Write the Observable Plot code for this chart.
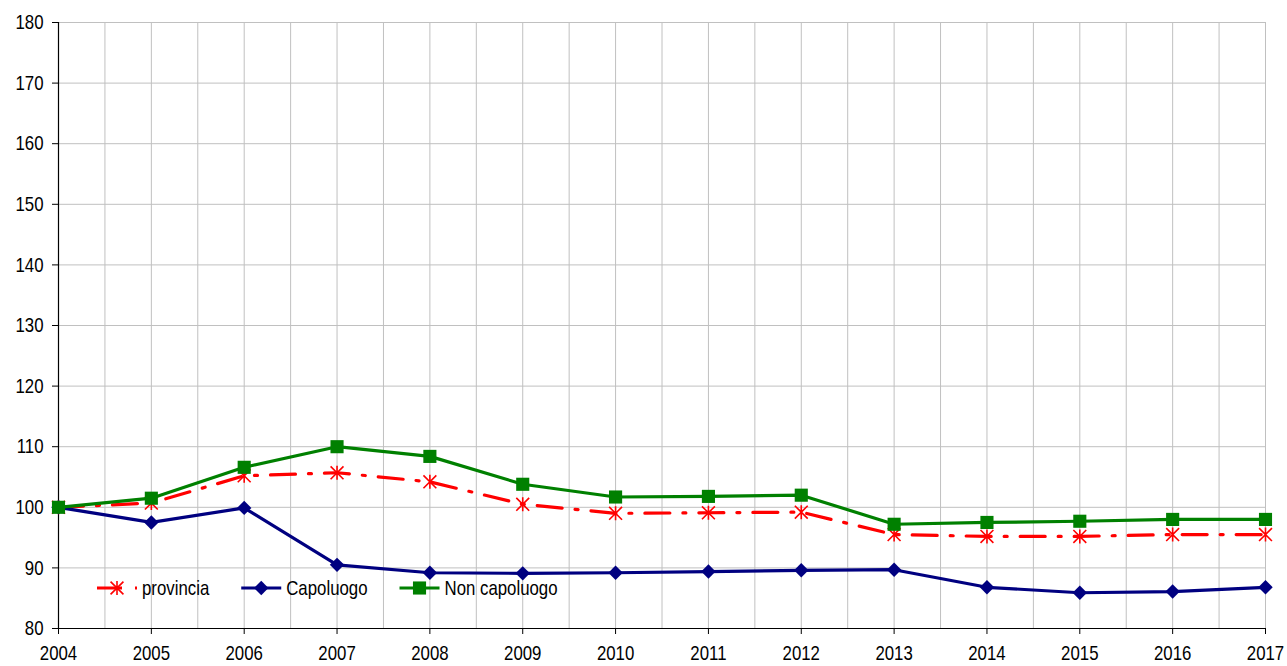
<!DOCTYPE html>
<html>
<head>
<meta charset="utf-8">
<script src="https://cdn.jsdelivr.net/npm/d3@7"></script>
<script src="https://cdn.jsdelivr.net/npm/@observablehq/plot@0.6"></script>
<style>
  html, body { margin: 0; padding: 0; background: #fff; }
  #wrap { position: relative; width: 1287px; height: 666px; font-family: "Liberation Sans", Arial, sans-serif; }
  #legend { position: absolute; left: 97px; top: 576px; }
  #chart svg text, #legend text { font-family: "Liberation Sans", Arial, sans-serif; font-size: 21px; fill: #000; }
</style>
</head>
<body>
<div id="wrap"><div id="chart"></div><svg id="legend" width="700" height="24"></svg></div>
<script>
const years = [2004, 2005, 2006, 2007, 2008, 2009, 2010, 2011, 2012, 2013, 2014, 2015, 2016, 2017];
const provincia = [100, 100.7, 105.2, 105.7, 104.2, 100.5, 99.0, 99.1, 99.2, 95.5, 95.2, 95.2, 95.5, 95.5];
const capoluogo = [100, 97.5, 99.9, 90.5, 89.2, 89.1, 89.2, 89.4, 89.6, 89.7, 86.8, 85.9, 86.1, 86.8];
const nonCapoluogo = [100, 101.5, 106.6, 110.0, 108.4, 103.8, 101.7, 101.8, 102.0, 97.2, 97.5, 97.7, 98.0, 98.0];
const yTicks = [80, 90, 100, 110, 120, 130, 140, 150, 160, 170, 180];

// Narrow-looking text (the reference uses a condensed face)
const NARROW = 0.8;

// Excel-style star: an X plus a vertical stroke
const starSymbol = {
  draw(context, size) {
    const r = Math.sqrt(size / Math.PI);
    const d = r * 0.92;
    context.moveTo(-d, -d); context.lineTo(d, d);
    context.moveTo(d, -d); context.lineTo(-d, d);
    context.moveTo(0, -r); context.lineTo(0, r);
  }
};

const seriesDefs = [
  {name: "provincia", values: provincia, color: "#ff0000", symbol: starSymbol, dash: "25,13,3,13", marker: "stroke", r: 7},
  {name: "Capoluogo", values: capoluogo, color: "#000080", symbol: d3.symbolDiamond2, dash: null, marker: "fill", r: 6.5},
  {name: "Non capoluogo", values: nonCapoluogo, color: "#008000", symbol: d3.symbolSquare, dash: null, marker: "fill", r: 7.4}
];

const halfYears = d3.range(years[0], years[years.length - 1] + 0.01, 0.5);

const marks = [
  Plot.gridX(halfYears, {stroke: "#c0c0c0", strokeOpacity: 1, strokeWidth: 1}),
  Plot.gridY(yTicks, {stroke: "#c0c0c0", strokeOpacity: 1, strokeWidth: 1}),
  Plot.axisY(yTicks, {tickSize: 6, tickPadding: 9, label: null, stroke: "#000", tickFormat: d => d}),
  Plot.axisX(years, {tickSize: 6, tickPadding: 11, label: null, tickFormat: d => String(d)}),
  Plot.ruleX([years[0]], {stroke: "#000", strokeWidth: 1.2}),
  Plot.ruleY([yTicks[0]], {stroke: "#000", strokeWidth: 1.2})
];

for (const s of seriesDefs) {
  const data = years.map((y, i) => ({year: y, value: s.values[i]}));
  marks.push(Plot.line(data, {x: "year", y: "value", stroke: s.color, strokeWidth: 3.2, strokeDasharray: s.dash || undefined}));
  if (s.marker === "fill") {
    marks.push(Plot.dot(data, {x: "year", y: "value", symbol: s.symbol, fill: s.color, stroke: "none", r: s.r}));
  } else {
    marks.push(Plot.dot(data, {x: "year", y: "value", symbol: s.symbol, stroke: s.color, fill: "none", strokeWidth: 1.6, r: s.r}));
  }
}

const chart = Plot.plot({
  width: 1287,
  height: 666,
  marginLeft: 58,
  marginRight: 22,
  marginTop: 22,
  marginBottom: 38,
  style: {fontFamily: "'Liberation Sans', Arial, sans-serif", fontSize: "21px", color: "#000", background: "#fff", overflow: "visible"},
  x: {domain: [years[0], years[years.length - 1]], axis: null},
  y: {domain: [yTicks[0], yTicks[yTicks.length - 1]], axis: null},
  marks
});
document.getElementById("chart").appendChild(chart);

function condense(textEl) {
  const len = textEl.getComputedTextLength();
  if (len > 0) {
    textEl.setAttribute("textLength", (len * NARROW).toFixed(2));
    textEl.setAttribute("lengthAdjust", "spacingAndGlyphs");
  }
  return len * NARROW;
}
chart.querySelectorAll("text").forEach(condense);

// Legend
const legend = d3.select("#legend");
let x = 0;
const cy = 12;
for (const s of seriesDefs) {
  const g = legend.append("g").attr("transform", `translate(${x},0)`);
  g.append("line").attr("x1", 0).attr("x2", 40).attr("y1", cy).attr("y2", cy)
    .attr("stroke", s.color).attr("stroke-width", 3.2)
    .attr("stroke-dasharray", s.dash || null);
  const p = g.append("path").attr("transform", `translate(20,${cy})`)
    .attr("d", d3.symbol(s.symbol, Math.PI * s.r * s.r)());
  if (s.marker === "fill") p.attr("fill", s.color);
  else p.attr("fill", "none").attr("stroke", s.color).attr("stroke-width", 1.6);
  const t = g.append("text").attr("x", 45).attr("y", cy).attr("dy", "0.35em").text(s.name);
  const w = condense(t.node());
  x += 45 + w + 32;
}
</script>
</body>
</html>
